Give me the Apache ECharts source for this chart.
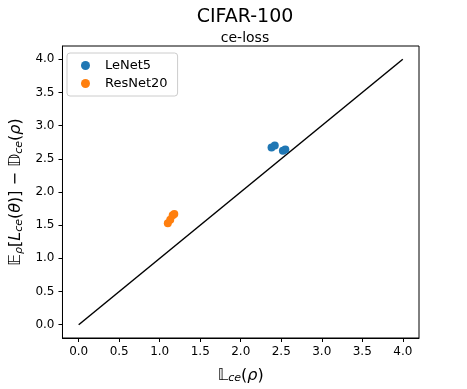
<!DOCTYPE html>
<html>
<head>
<meta charset="utf-8">
<script src="https://cdn.jsdelivr.net/npm/echarts@6/dist/echarts.min.js"></script>
<style>html,body{margin:0;padding:0;background:#fff}#c{width:467px;height:389px}</style>
</head>
<body>
<div id="c"></div>
<script>
var tickValues = [0, 0.5, 1, 1.5, 2, 2.5, 3, 3.5, 4];
var lenetX = [2.38, 2.42, 2.52, 2.55];
var lenetY = [2.67, 2.70, 2.62, 2.64];
var resnetX = [1.10, 1.13, 1.16, 1.18];
var resnetY = [1.53, 1.58, 1.65, 1.67];
var diagX = [0, 4];
var diagY = [0, 4];

function pairs(xs, ys) { return xs.map(function (x, i) { return [x, ys[i]]; }); }

var font = 'DejaVu Sans';
var rich = {
  m: { fontSize: 16, fontFamily: font, color: '#000' },
  i: { fontSize: 16, fontFamily: font, fontStyle: 'italic', color: '#000' },
  s: { fontSize: 11, fontFamily: font, fontStyle: 'italic', color: '#000', verticalAlign: 'bottom', padding: [6, 0, 0, 0] }
};

function axisCommon() {
  return {
    type: 'value', min: -0.2, max: 4.2,
    axisLine: { show: true, onZero: false, lineStyle: { color: '#000', width: 1 } },
    axisTick: { show: true, customValues: tickValues, length: 4, lineStyle: { color: '#000' } },
    axisLabel: { customValues: tickValues, color: '#000', fontSize: 12, fontFamily: font, formatter: function (v) { return v.toFixed(1); } },
    splitLine: { show: false }
  };
}
var xAxis = axisCommon();
xAxis.name = '{m|𝕃}{s|ce}{m|(}{i|ρ}{m|)}';
xAxis.nameLocation = 'middle';
xAxis.nameGap = 29;
xAxis.nameTextStyle = { rich: rich };
var yAxis = axisCommon();
yAxis.name = '{m|𝔼}{s|ρ}{m|[}{i|L}{s|ce}{m|(}{i|θ}{m|)] − 𝔻}{s|ce}{m|(}{i|ρ}{m|)}';
yAxis.nameLocation = 'middle';
yAxis.nameGap = 31;
yAxis.nameRotate = 90;
yAxis.nameTextStyle = { rich: rich };

var chart = echarts.init(document.getElementById('c'), null, { renderer: 'canvas' });
chart.setOption({
  animation: false,
  backgroundColor: '#fff',
  title: [
    { text: 'CIFAR-100', left: 240, top: 3, textAlign: 'center', textStyle: { fontFamily: font, fontSize: 19, fontWeight: 'normal', color: '#000' } },
    { text: 'ce-loss', left: 240, top: 26, textAlign: 'center', textStyle: { fontFamily: font, fontSize: 14, fontWeight: 'normal', color: '#000' } }
  ],
  grid: { left: 60, right: 48, top: 46, bottom: 47, show: true, borderColor: '#000', borderWidth: 1 },
  legend: {
    left: 67, top: 53, orient: 'vertical', itemGap: 5,
    data: ['LeNet5', 'ResNet20'],
    icon: 'circle', itemWidth: 9, itemHeight: 9,
    padding: [6, 10, 6, 14],
    borderColor: '#ccc', borderWidth: 1, borderRadius: 3,
    textStyle: { fontFamily: font, fontSize: 13, color: '#000', padding: [0, 0, 0, 10] }
  },
  xAxis: xAxis,
  yAxis: yAxis,
  series: [
    { name: 'diag', type: 'line', data: pairs(diagX, diagY), symbol: 'none', lineStyle: { color: '#000', width: 1.5 }, z: 1 },
    { name: 'LeNet5', type: 'scatter', data: pairs(lenetX, lenetY), symbolSize: 8, itemStyle: { color: '#1f77b4', opacity: 1 }, z: 3 },
    { name: 'ResNet20', type: 'scatter', data: pairs(resnetX, resnetY), symbolSize: 8, itemStyle: { color: '#ff7f0e', opacity: 1 }, z: 3 }
  ]
});
</script>
</body>
</html>
